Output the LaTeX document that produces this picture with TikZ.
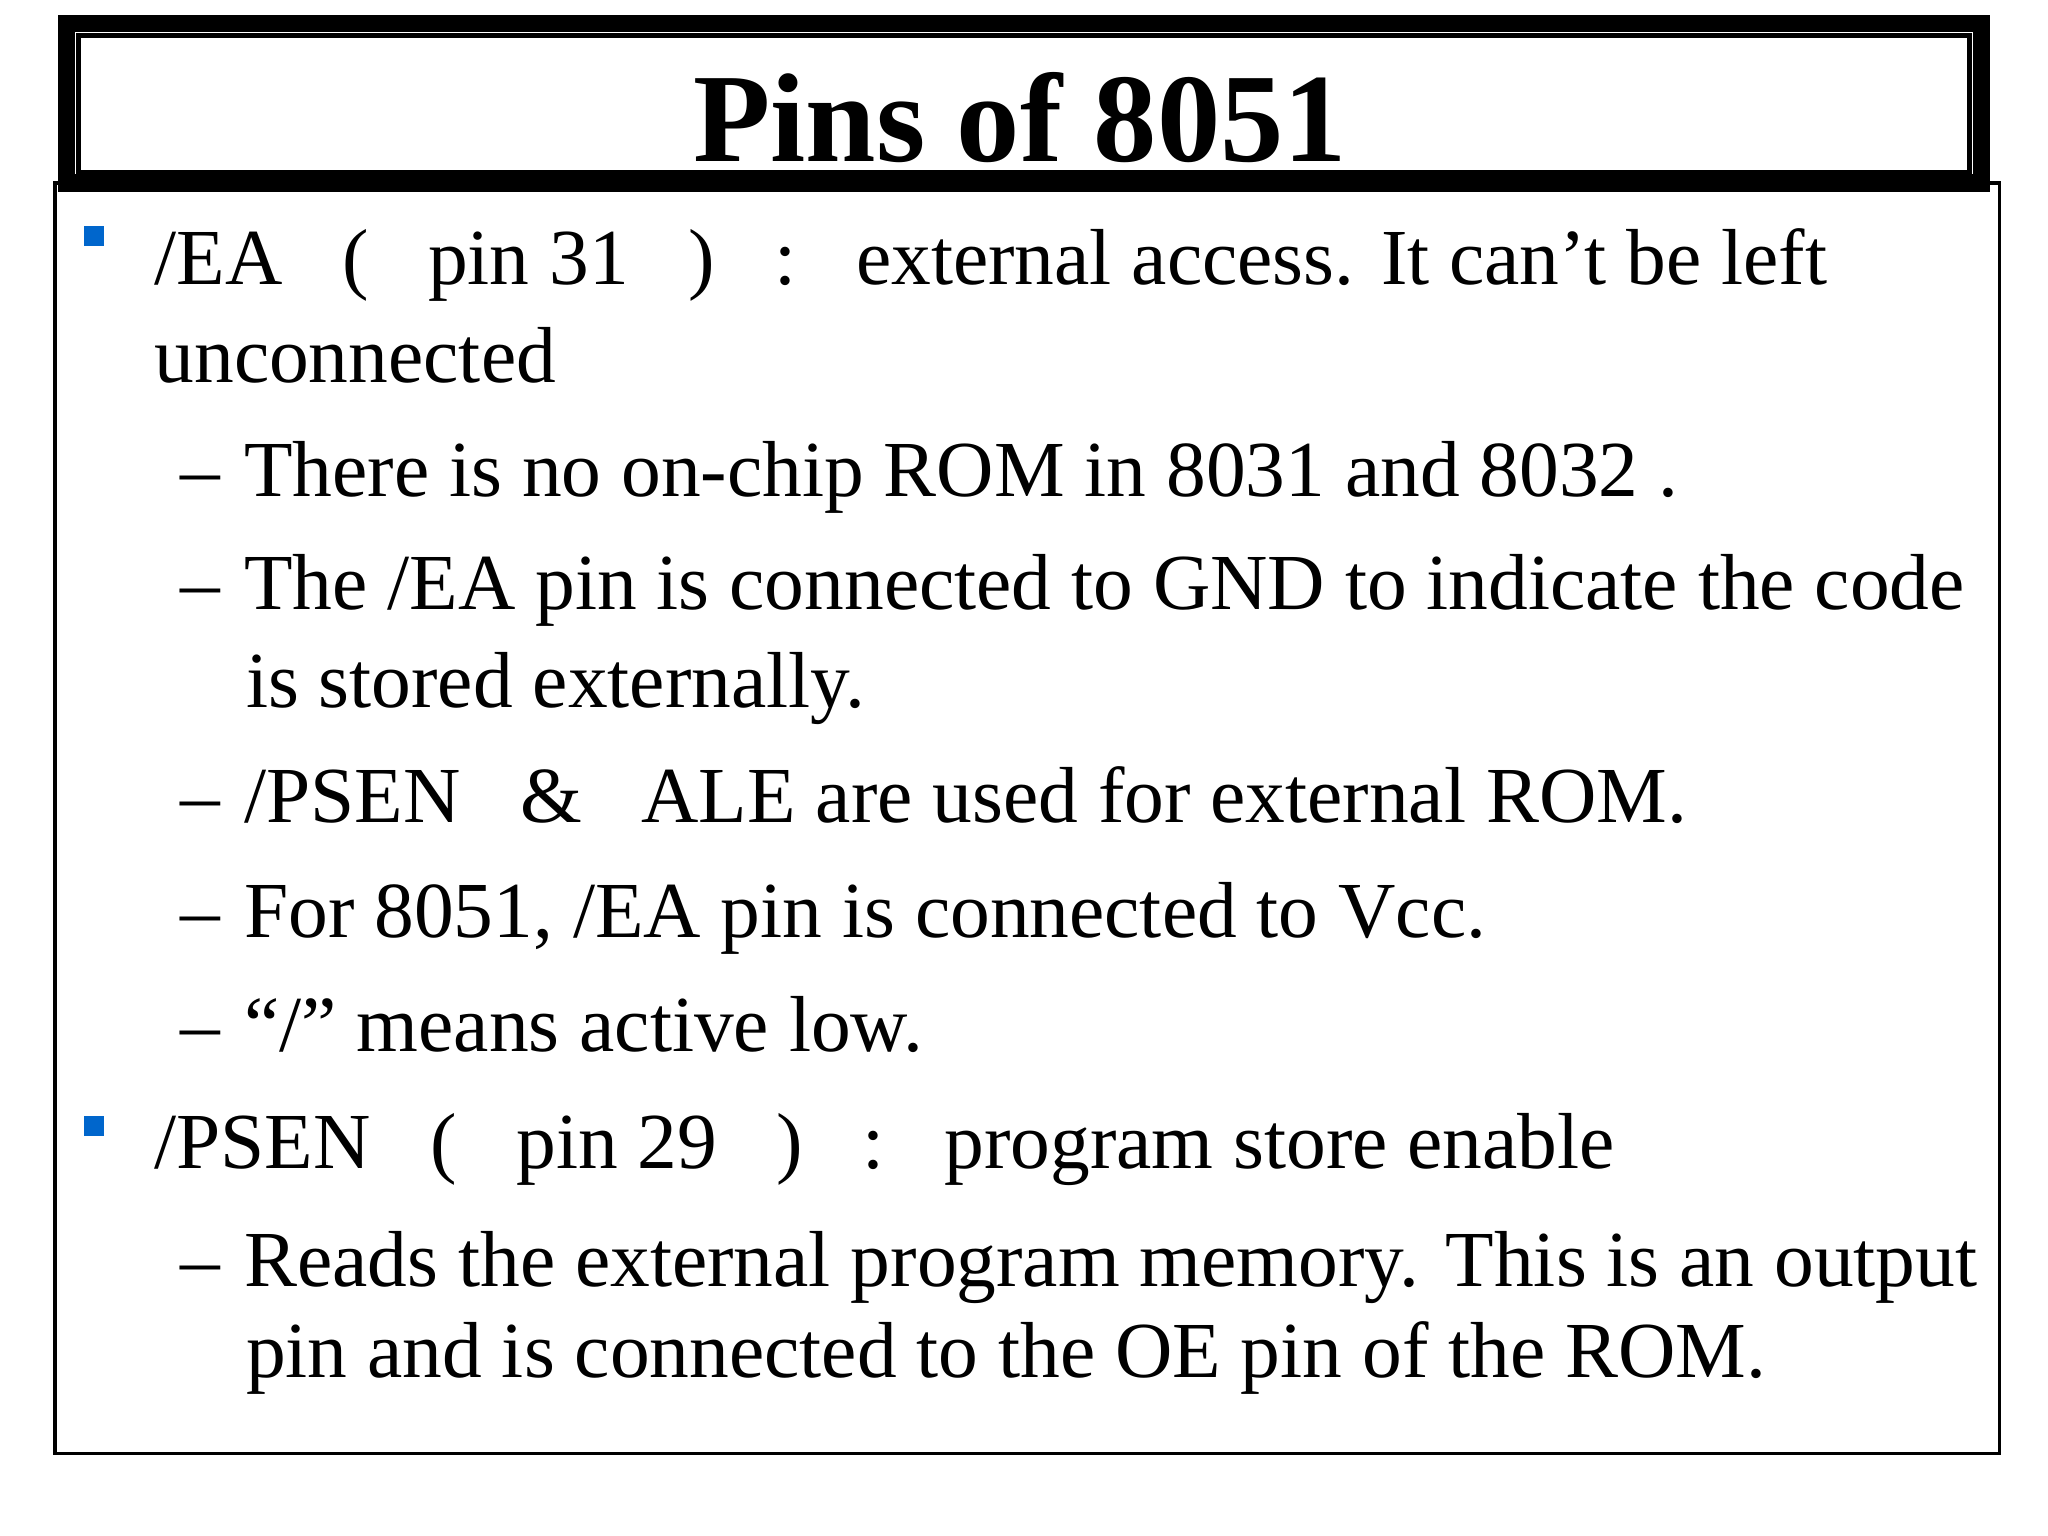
\documentclass[tikz,border=0pt]{standalone}
\usepackage{fontspec}
\setmainfont{Liberation Serif}
\definecolor{bulletblue}{RGB}{0,102,204}
\newcommand{\pgap}{\hspace{0.75em}}
\newcommand{\dgap}{\hspace{0.3em}}
\begin{document}
\begin{tikzpicture}[x=0.01306cm, y=-0.01306cm, line width=1pt,
    txt/.style={anchor=base west, inner sep=0pt, font=\fontsize{22.6}{26}\selectfont},
    bul/.style={fill=bulletblue, minimum size=0.2cm, inner sep=0pt}]

    % Page frame
    \useasboundingbox (0,0) rectangle (1568,1176);

    % Content box
    \draw (42,140) rectangle (1531,1113);

    % Title box: thick outer and thin inner frame
    \draw[fill=white, line width=5pt] (51,18) rectangle (1517,140);
    \draw[line width=1.5pt] (60,27) rectangle (1508,132);
    \node[font=\bfseries\fontsize{36}{42}\selectfont] (title) at (781,90) {Pins of 8051};

    % Bullets
    \node[bul] (b1) at (72,181) {};
    \node[bul] (b2) at (72,862) {};

    % First item
    \node[txt] (ea) at (117,218) {/EA\pgap(\pgap pin 31\pgap)\pgap:\pgap external access. It can’t be left};
    \node[txt] (ea2) at (117,293) {unconnected};
    \node[txt] (s1) at (137,380) {–\dgap There is no on-chip ROM in 8031 and 8032 .};
    \node[txt] (s2) at (137,467) {–\dgap The /EA pin is connected to GND to indicate the code};
    \node[txt] (s2b) at (187,542) {is stored externally.};
    \node[txt] (s3) at (137,630) {–\dgap /PSEN\enspace\ \&\enspace\ ALE are used for external ROM.};
    \node[txt] (s4) at (137,718) {–\dgap For 8051, /EA pin is connected to Vcc.};
    \node[txt] (s5) at (137,805) {–\dgap “/” means active low.};

    % Second item
    \node[txt] (psen) at (117,895) {/PSEN\pgap(\pgap pin 29\pgap)\pgap:\pgap program store enable};
    \node[txt] (p1) at (137,985) {–\dgap Reads the external program memory. This is an output};
    \node[txt] (p1b) at (187,1055) {pin and is connected to the OE pin of the ROM.};

\end{tikzpicture}
\end{document}
